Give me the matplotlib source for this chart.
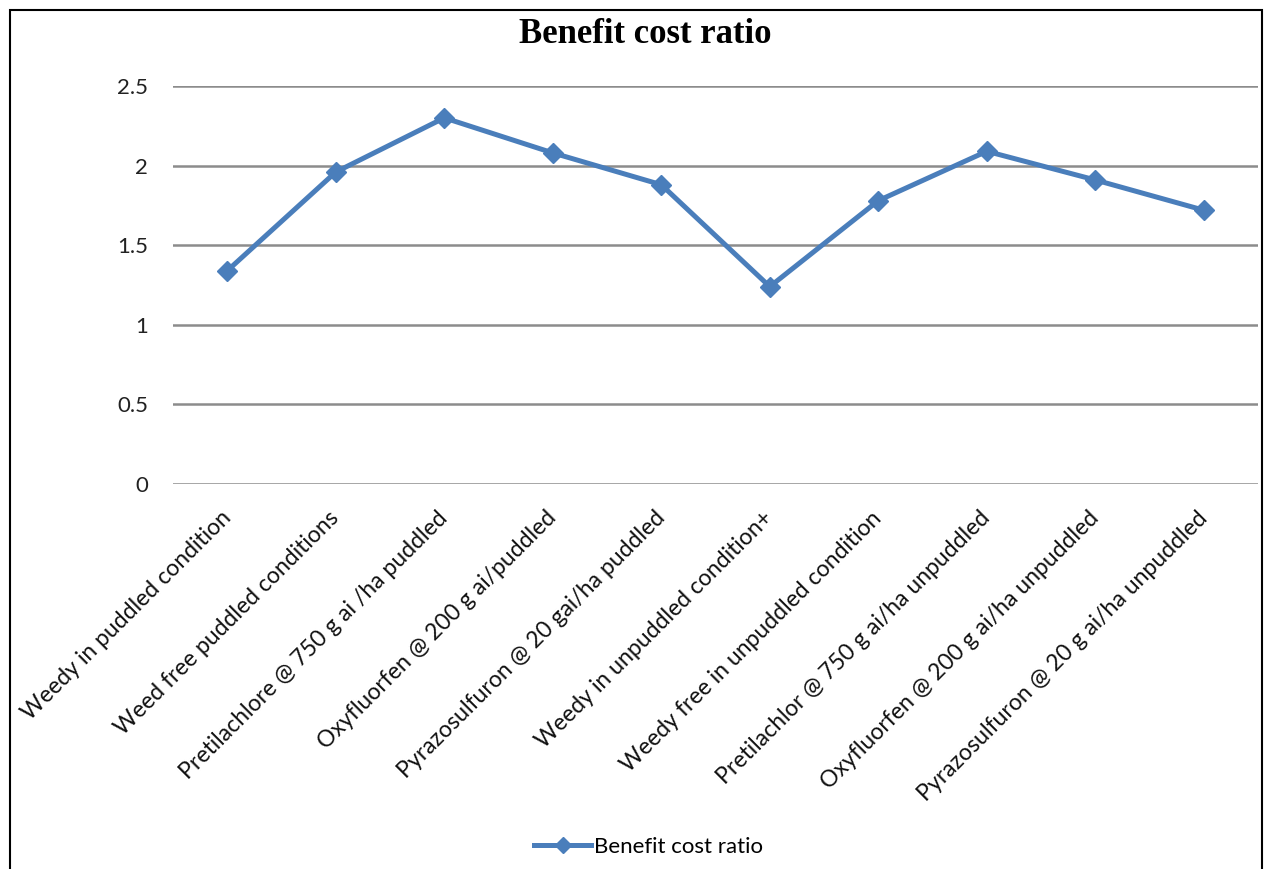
import matplotlib.pyplot as plt
from matplotlib.patches import Rectangle

treatments = [
    'Weedy in puddled condition',
    'Weed free puddled conditions',
    'Pretilachlore @ 750 g ai /ha puddled',
    'Oxyfluorfen @ 200 g ai/puddled',
    'Pyrazosulfuron @ 20 gai/ha puddled',
    'Weedy in unpuddled condition+',
    'Weedy free in unpuddled condition',
    'Pretilachlor @ 750 g ai/ha unpuddled',
    'Oxyfluorfen @ 200 g ai/ha unpuddled',
    'Pyrazosulfuron @ 20 g ai/ha unpuddled',
]
bcr = [1.34, 1.96, 2.30, 2.08, 1.88, 1.24, 1.78, 2.09, 1.91, 1.72]
yticks = [0, 0.5, 1, 1.5, 2, 2.5]
ytick_labels = ['0', '0.5', '1', '1.5', '2', '2.5']

blue = '#4a7ebb'
grid_col = '#8c8c8c'
font = 'Lato'

fig = plt.figure(figsize=(12.66, 8.69), dpi=100)
ax = fig.add_axes([0.1367, 0.443, 0.857, 0.458])

x = range(len(treatments))
ax.plot(x, bcr, color=blue, lw=3.6, marker='D', markersize=10,
        label='Benefit cost ratio', zorder=3)

ax.set_xlim(-0.5, len(treatments) - 0.5)
ax.set_ylim(0, 2.5)
ax.set_yticks(yticks)
ax.set_yticklabels(ytick_labels, fontsize=16, family=font, color='#222222')
ax.set_xticks(list(x))
ax.set_xticklabels(treatments, rotation=45, ha='right', va='center',
                   rotation_mode='anchor', fontsize=16.6, family=font,
                   color='#111111')
ax.tick_params(axis='y', length=0, pad=18)
ax.tick_params(axis='x', length=0, pad=22)
for s in ax.spines.values():
    s.set_visible(False)
for y in yticks:
    ax.axhline(y, color=grid_col, lw=1.8, zorder=1)

fig.text(0.51, 0.96, 'Benefit cost ratio', ha='center', va='center',
         fontsize=25, fontweight='bold', family='Liberation Serif')

fig.legend(loc='center', bbox_to_anchor=(0.512, 0.025), frameon=False,
           prop={'family': font, 'size': 16}, handlelength=2.6,
           handletextpad=0.1, markerscale=0.8)

fig.patches.append(Rectangle((10 / 1266, -0.05), 1252 / 1266, 1.05 - 10 / 869,
                             transform=fig.transFigure, fill=False,
                             edgecolor='black', lw=1.5))

fig.savefig('out.png', dpi=100)
